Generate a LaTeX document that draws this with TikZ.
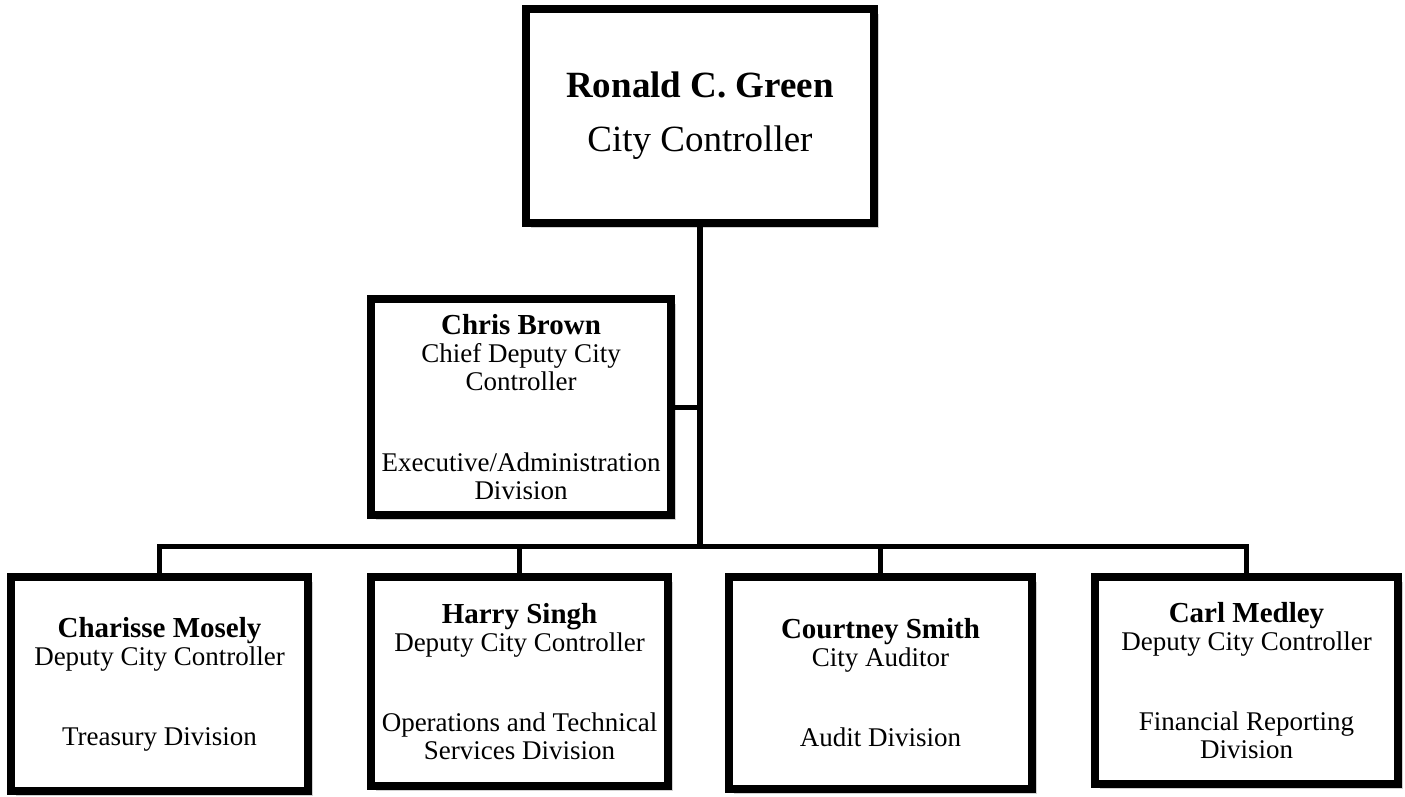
\documentclass[tikz,border=0pt]{standalone}
\usepackage{fontspec}
\setmainfont{Liberation Serif}
\usetikzlibrary{shadows}
\begin{document}
\begin{tikzpicture}[x=1pt,y=-1pt,
  box/.style={draw=black, line width=8pt, fill=white, align=center, inner sep=0pt,
    drop shadow={shadow xshift=5pt, shadow yshift=-5pt, opacity=0.18, fill=black}},
  sub/.style={box, font=\fontsize{27}{28}\selectfont},
  conn/.style={line width=5pt, draw=black},
  nm/.style={}]
\useasboundingbox (0,0) rectangle (1405,796);

\node[box, minimum width=348pt, minimum height=214pt, font=\fontsize{37}{54}\selectfont]
  (top) at (700,116) {\textbf{Ronald C. Green}\\City Controller};

\node[sub, minimum width=300pt, minimum height=216pt] (chris) at (521,407)
  {{\bfseries\fontsize{29}{28}\selectfont Chris Brown}\\Chief Deputy City\\Controller\\[53pt]Executive/Administration\\Division};

\node[sub, minimum width=297pt, minimum height=214pt] (c1) at (159.5,684)
  {{\bfseries\fontsize{29}{28}\selectfont Charisse Mosely}\\Deputy City Controller\\[52pt]Treasury Division};

\node[sub, minimum width=297pt, minimum height=209pt] (c2) at (519.5,681.5)
  {{\bfseries\fontsize{29}{28}\selectfont Harry Singh}\\Deputy City Controller\\[52pt]Operations and Technical\\Services Division};

\node[sub, minimum width=303pt, minimum height=212pt] (c3) at (880.5,683)
  {{\bfseries\fontsize{29}{28}\selectfont Courtney Smith}\\City Auditor\\[52pt]Audit Division};

\node[sub, minimum width=303pt, minimum height=207pt] (c4) at (1246.5,680.5)
  {{\bfseries\fontsize{29}{28}\selectfont Carl Medley}\\Deputy City Controller\\[52pt]Financial Reporting\\Division};

\coordinate (bus) at (700,546);

\draw[conn, line width=6pt] (top.south) -- (bus);
\draw[conn] (chris.east) -- (chris.east -| top.south);
\draw[conn] (c1.north) -- (c1.north |- bus) -- (c4.north |- bus) -- (c4.north);
\draw[conn] (c2.north) -- (c2.north |- bus);
\draw[conn] (c3.north) -- (c3.north |- bus);
\end{tikzpicture}
\end{document}
